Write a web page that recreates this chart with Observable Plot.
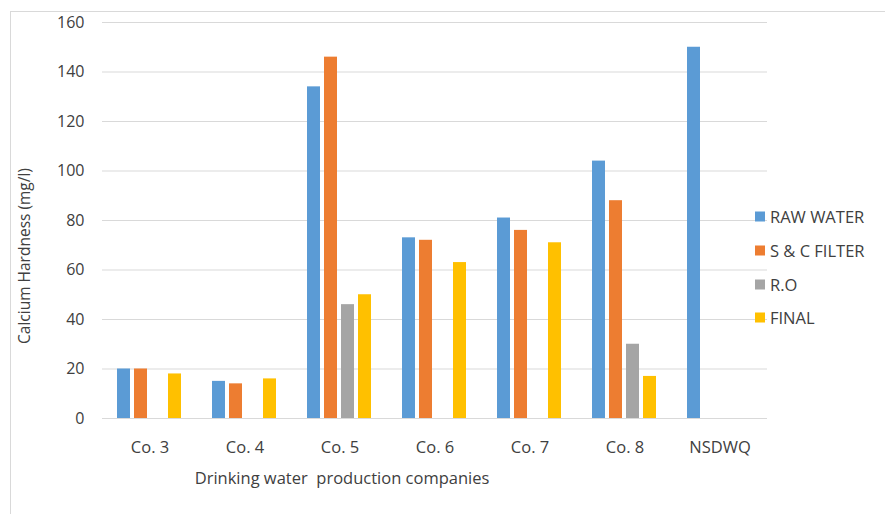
<!DOCTYPE html>
<html>
<head>
<meta charset="utf-8">
<script src="https://cdn.jsdelivr.net/npm/d3@7"></script>
<script src="https://cdn.jsdelivr.net/npm/@observablehq/plot@0.6"></script>
<style>
  html, body { margin: 0; padding: 0; background: #fff; }
  #wrap { position: relative; width: 885px; height: 514px; overflow: hidden; font-family: "Open Sans", sans-serif; color: #404040; }
  #frame { position: absolute; left: 10px; top: 11px; width: 900px; height: 520px; border-left: 1px solid #D9D9D9; border-top: 1px solid #D9D9D9; }
  #chart { position: absolute; left: 0; top: 0; }
  .title { position: absolute; white-space: pre; line-height: 1; }
  #xtitle { left: 342px; top: 478px; font-size: 16.5px; transform: translate(-50%, -50%); }
  #ytitle { left: 25px; top: 256px; font-size: 15.5px; transform: translate(-50%, -50%) rotate(-90deg); }
  #legend { position: absolute; left: 755px; top: 0; }
  .item { position: absolute; left: 0; display: flex; align-items: center; white-space: nowrap; font-size: 16.5px; transform: translateY(-50%); }
  .sw { width: 10px; height: 10px; margin-right: 5px; }
</style>
</head>
<body>
<div id="wrap">
  <div id="frame"></div>
  <div id="chart"></div>
  <div class="title" id="ytitle">Calcium Hardness (mg/l)</div>
  <div class="title" id="xtitle">Drinking water  production companies</div>
  <div id="legend"></div>
</div>
<script>
// Sampling sites and treatment stages
const companies = ["Co. 3", "Co. 4", "Co. 5", "Co. 6", "Co. 7", "Co. 8", "NSDWQ"];
const series = ["RAW WATER", "S & C FILTER", "R.O", "FINAL"];
const colors = ["#5B9BD5", "#ED7D31", "#A5A5A5", "#FFC000"];

// Calcium hardness (mg/l) per company, one array per stage (null = not measured)
const rawWater = [20, 15, 134, 73, 81, 104, 150];
const scFilter = [20, 14, 146, 72, 76, 88, null];
const ro       = [null, null, 46, null, null, 30, null];
const finalWater = [18, 16, 50, 63, 71, 17, null];

const yTicks = [0, 20, 40, 60, 80, 100, 120, 140, 160];

const stageValues = [rawWater, scFilter, ro, finalWater];
const rows = [];
companies.forEach((c, i) => {
  series.forEach((s, j) => {
    const v = stageValues[j][i];
    if (v != null) rows.push({company: c, series: s, value: v});
  });
});

const chart = Plot.plot({
  width: 885,
  height: 514,
  marginLeft: 100,
  marginRight: 116,
  marginTop: 22,
  marginBottom: 96,
  style: {fontFamily: "Open Sans, sans-serif", fontSize: "16px", color: "#404040", background: "transparent"},
  fx: {domain: companies, padding: 0, label: null, tickSize: 0, tickPadding: 23},
  x: {domain: series, axis: null, paddingInner: 0.22, paddingOuter: 0.9},
  y: {domain: [0, 160], ticks: yTicks, tickSize: 0, tickPadding: 18, label: null},
  color: {domain: series, range: colors},
  marks: [
    Plot.ruleY(yTicks, {stroke: "#D9D9D9", strokeWidth: 1.2, strokeOpacity: 1}),
    Plot.barY(rows, {fx: "company", x: "series", y: "value", fill: "series"})
  ]
});
chart.querySelectorAll("[aria-label='fx-axis tick label'] text, [aria-label='fx-axis tick label']").forEach(el => {
  el.setAttribute("font-size", "16.5");
});
document.getElementById("chart").appendChild(chart);

// Legend on the right
const legend = document.getElementById("legend");
const legendY = [216, 250, 284, 317];
series.forEach((s, i) => {
  const item = document.createElement("div");
  item.className = "item";
  item.style.top = legendY[i] + "px";
  const sw = document.createElement("span");
  sw.className = "sw";
  sw.style.background = colors[i];
  const label = document.createElement("span");
  label.textContent = s;
  item.appendChild(sw);
  item.appendChild(label);
  legend.appendChild(item);
});
</script>
</body>
</html>
